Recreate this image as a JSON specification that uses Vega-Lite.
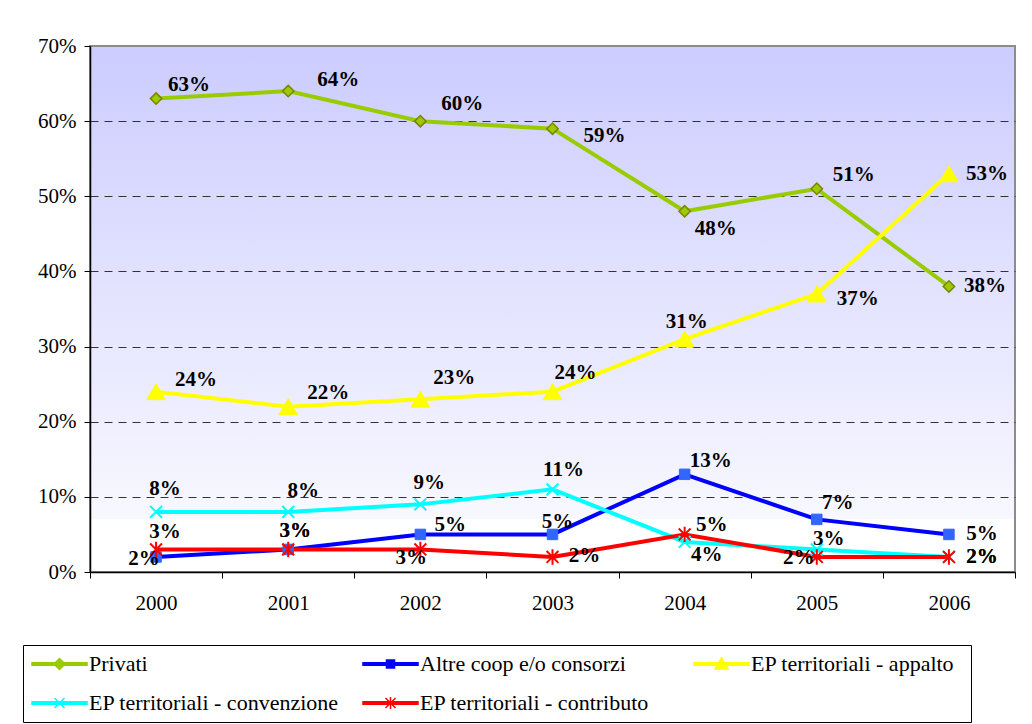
{
  "$schema": "https://vega.github.io/schema/vega-lite/v6.json",
  "width": 925,
  "height": 526,
  "autosize": "none",
  "padding": {"left": 90, "top": 46, "right": 17, "bottom": 152},
  "background": "white",
  "view": {
    "stroke": "#8c8c8c",
    "strokeWidth": 2,
    "fill": {"expr": "{gradient: 'linear', x1: 0, y1: 0, x2: 0, y2: 1, stops: [{offset: 0, color: '#ccccff'}, {offset: 0.9, color: '#f8f8ff'}, {offset: 0.9, color: '#ffffff'}, {offset: 1, color: '#ffffff'}]}"}
  },
  "config": {
    "font": "Liberation Serif",
    "axis": {"labelFont": "Liberation Serif", "labelFontSize": 21, "labelColor": "black", "tickColor": "black", "domainColor": "black", "title": null},
    "legend": {"labelFont": "Liberation Serif", "labelFontSize": 22, "labelColor": "black", "titleFontSize": 6}
  },
  "data": {
    "values": [
      {"series": "Privati", "year": "2000", "v": 0.63},
      {"series": "Privati", "year": "2001", "v": 0.64},
      {"series": "Privati", "year": "2002", "v": 0.60},
      {"series": "Privati", "year": "2003", "v": 0.59},
      {"series": "Privati", "year": "2004", "v": 0.48},
      {"series": "Privati", "year": "2005", "v": 0.51},
      {"series": "Privati", "year": "2006", "v": 0.38},
      {"series": "Altre coop e/o consorzi", "year": "2000", "v": 0.02},
      {"series": "Altre coop e/o consorzi", "year": "2001", "v": 0.03},
      {"series": "Altre coop e/o consorzi", "year": "2002", "v": 0.05},
      {"series": "Altre coop e/o consorzi", "year": "2003", "v": 0.05},
      {"series": "Altre coop e/o consorzi", "year": "2004", "v": 0.13},
      {"series": "Altre coop e/o consorzi", "year": "2005", "v": 0.07},
      {"series": "Altre coop e/o consorzi", "year": "2006", "v": 0.05},
      {"series": "EP territoriali - appalto", "year": "2000", "v": 0.24},
      {"series": "EP territoriali - appalto", "year": "2001", "v": 0.22},
      {"series": "EP territoriali - appalto", "year": "2002", "v": 0.23},
      {"series": "EP territoriali - appalto", "year": "2003", "v": 0.24},
      {"series": "EP territoriali - appalto", "year": "2004", "v": 0.31},
      {"series": "EP territoriali - appalto", "year": "2005", "v": 0.37},
      {"series": "EP territoriali - appalto", "year": "2006", "v": 0.53},
      {"series": "EP territoriali - convenzione", "year": "2000", "v": 0.08},
      {"series": "EP territoriali - convenzione", "year": "2001", "v": 0.08},
      {"series": "EP territoriali - convenzione", "year": "2002", "v": 0.09},
      {"series": "EP territoriali - convenzione", "year": "2003", "v": 0.11},
      {"series": "EP territoriali - convenzione", "year": "2004", "v": 0.04},
      {"series": "EP territoriali - convenzione", "year": "2005", "v": 0.03},
      {"series": "EP territoriali - convenzione", "year": "2006", "v": 0.02},
      {"series": "EP territoriali - contributo", "year": "2000", "v": 0.03},
      {"series": "EP territoriali - contributo", "year": "2001", "v": 0.03},
      {"series": "EP territoriali - contributo", "year": "2002", "v": 0.03},
      {"series": "EP territoriali - contributo", "year": "2003", "v": 0.02},
      {"series": "EP territoriali - contributo", "year": "2004", "v": 0.05},
      {"series": "EP territoriali - contributo", "year": "2005", "v": 0.02},
      {"series": "EP territoriali - contributo", "year": "2006", "v": 0.02}
    ]
  },
  "encoding": {
    "x": {
      "field": "year", "type": "ordinal", "bandPosition": 0.5,
      "scale": {"type": "band", "paddingInner": 0, "paddingOuter": 0},
      "axis": {"labelAngle": 0, "tickBand": "extent", "tickSize": 6, "labelPadding": 14, "grid": false, "domainWidth": 1.5}
    },
    "y": {
      "field": "v", "type": "quantitative",
      "scale": {"domain": [0, 0.7], "nice": false, "zero": true},
      "axis": {
        "values": [0, 0.1, 0.2, 0.3, 0.4, 0.5, 0.6, 0.7],
        "format": ".0%", "tickSize": 6, "labelPadding": 8, "domainWidth": 1.5,
        "grid": true, "gridDash": [8, 6], "gridColor": "#333333",
        "gridOpacity": {"condition": {"test": "datum.value === 0 || datum.value === 0.7", "value": 0}, "value": 1}
      }
    }
  },
  "layer": [
    {
      "mark": {"type": "line", "strokeWidth": 4},
      "encoding": {
        "color": {
          "field": "series", "type": "nominal", "legend": null,
          "scale": {
            "domain": ["Altre coop e/o consorzi", "EP territoriali - appalto", "EP territoriali - contributo", "EP territoriali - convenzione", "Privati"],
            "range": ["#0000ff", "#ffff00", "#ff0000", "#00ffff", "#99cc00"]
          }
        }
      }
    },
    {
      "transform": [{"filter": "datum.series === 'Privati'"}],
      "mark": {"type": "point", "shape": "diamond", "size": 130, "filled": true, "fill": "#99cc00", "stroke": "#808000", "strokeWidth": 1.5, "opacity": 1}
    },
    {
      "transform": [{"filter": "datum.series === 'Altre coop e/o consorzi'"}],
      "mark": {"type": "point", "shape": "square", "size": 110, "filled": true, "fill": "#3366ff", "stroke": "#3366ff", "strokeWidth": 1, "opacity": 1}
    },
    {
      "transform": [{"filter": "datum.series === 'EP territoriali - appalto'"}],
      "mark": {"type": "point", "shape": "triangle-up", "size": 340, "filled": true, "fill": "#ffff00", "stroke": "#ffff00", "strokeWidth": 1, "opacity": 1}
    },
    {
      "transform": [{"filter": "datum.series === 'EP territoriali - convenzione'"}],
      "mark": {"type": "point", "shape": "M-1,-1L1,1M-1,1L1,-1", "size": 140, "filled": false, "stroke": "#00ffff", "strokeWidth": 2, "opacity": 1}
    },
    {
      "transform": [{"filter": "datum.series === 'EP territoriali - contributo'"}],
      "mark": {"type": "point", "shape": "M-1,-1L1,1M-1,1L1,-1M0,-1.3V1.3", "size": 140, "filled": false, "stroke": "#ff0000", "strokeWidth": 2, "opacity": 1}
    },
    {
      "transform": [{"filter": "datum.series === 'Privati'"}],
      "mark": {"type": "text", "font": "Liberation Serif", "fontWeight": "bold", "fontSize": 21, "color": "black",
        "dx": {"expr": "{'2000':33,'2001':50,'2002':42,'2003':52,'2004':31,'2005':37,'2006':36}[datum.year]"},
        "dy": {"expr": "{'2000':-14,'2001':-11,'2002':-17,'2003':7,'2004':18,'2005':-14,'2006':0}[datum.year]"}},
      "encoding": {"text": {"field": "v", "type": "quantitative", "format": ".0%"}}
    },
    {
      "transform": [{"filter": "datum.series === 'Altre coop e/o consorzi'"}],
      "mark": {"type": "text", "font": "Liberation Serif", "fontWeight": "bold", "fontSize": 21, "color": "black",
        "dx": {"expr": "{'2000':-12,'2001':7,'2002':30,'2003':5,'2004':26,'2005':21,'2006':33}[datum.year]"},
        "dy": {"expr": "{'2000':2,'2001':-18,'2002':-9,'2003':-12,'2004':-13,'2005':-16,'2006':0}[datum.year]"}},
      "encoding": {"text": {"field": "v", "type": "quantitative", "format": ".0%"}}
    },
    {
      "transform": [{"filter": "datum.series === 'EP territoriali - appalto'"}],
      "mark": {"type": "text", "font": "Liberation Serif", "fontWeight": "bold", "fontSize": 21, "color": "black",
        "dx": {"expr": "{'2000':40,'2001':40,'2002':34,'2003':23,'2004':2,'2005':41,'2006':38}[datum.year]"},
        "dy": {"expr": "{'2000':-12,'2001':-14,'2002':-21,'2003':-19,'2004':-17,'2005':5,'2006':0}[datum.year]"}},
      "encoding": {"text": {"field": "v", "type": "quantitative", "format": ".0%"}}
    },
    {
      "transform": [{"filter": "datum.series === 'EP territoriali - convenzione'"}],
      "mark": {"type": "text", "font": "Liberation Serif", "fontWeight": "bold", "fontSize": 21, "color": "black",
        "dx": {"expr": "{'2000':9,'2001':15,'2002':9,'2003':11,'2004':22,'2005':12,'2006':33}[datum.year]"},
        "dy": {"expr": "{'2000':-23,'2001':-21,'2002':-21,'2003':-19,'2004':13,'2005':-10,'2006':0}[datum.year]"}},
      "encoding": {"text": {"field": "v", "type": "quantitative", "format": ".0%"}}
    },
    {
      "transform": [{"filter": "datum.series === 'EP territoriali - contributo'"}],
      "mark": {"type": "text", "font": "Liberation Serif", "fontWeight": "bold", "fontSize": 21, "color": "black",
        "dx": {"expr": "{'2000':9,'2001':7,'2002':-9,'2003':32,'2004':27,'2005':-18,'2006':33}[datum.year]"},
        "dy": {"expr": "{'2000':-17,'2001':-18,'2002':9,'2003':-1,'2004':-9,'2005':1,'2006':0}[datum.year]"}},
      "encoding": {"text": {"field": "v", "type": "quantitative", "format": ".0%"}}
    },
    {
      "transform": [{"filter": "datum.year === '2000'"}],
      "mark": {"type": "point", "filled": true, "size": 400, "opacity": 0},
      "encoding": {
        "fill": {
          "field": "series", "type": "nominal",
          "scale": {
            "domain": ["Privati", "Altre coop e/o consorzi", "EP territoriali - appalto", "EP territoriali - convenzione", "EP territoriali - contributo"],
            "range": ["#99cc00", "#0000ff", "#ffff00", "#00ffff", "#ff0000"]
          },
          "legend": {
            "orient": "none", "legendX": -67, "legendY": 599, "title": " ", "titleOrient": "right", "titlePadding": 9,
            "direction": "horizontal", "columns": 3, "gridAlign": "all",
            "columnPadding": 21, "rowPadding": 17, "padding": 8,
            "strokeColor": "black", "fillColor": "white",
            "labelOffset": 36, "symbolStrokeWidth": 1.5, "symbolSize": 400, "symbolOpacity": 1, "labelLimit": 400
          }
        },
        "stroke": {
          "field": "series", "type": "nominal",
          "scale": {
            "domain": ["Privati", "Altre coop e/o consorzi", "EP territoriali - appalto", "EP territoriali - convenzione", "EP territoriali - contributo"],
            "range": ["#99cc00", "#0000ff", "#ffff00", "#00ffff", "#ff0000"]
          },
          "legend": {
            "orient": "none", "legendX": -67, "legendY": 599, "title": " ", "titleOrient": "right", "titlePadding": 9,
            "direction": "horizontal", "columns": 3, "gridAlign": "all",
            "columnPadding": 21, "rowPadding": 17, "padding": 8,
            "strokeColor": "black", "fillColor": "white",
            "labelOffset": 36, "symbolStrokeWidth": 1.5, "symbolSize": 400, "symbolOpacity": 1, "labelLimit": 400
          }
        },
        "shape": {
          "field": "series", "type": "nominal",
          "scale": {
            "domain": ["Privati", "Altre coop e/o consorzi", "EP territoriali - appalto", "EP territoriali - convenzione", "EP territoriali - contributo"],
            "range": [
              "M-1,-0.12H4.5V0.12H-1ZM1.75,-0.55L2.3,0L1.75,0.55L1.2,0Z",
              "M-1,-0.12H4.5V0.12H-1ZM1.35,-0.4H2.15V0.4H1.35Z",
              "M-1,-0.12H4.5V0.12H-1ZM1.75,-0.6L2.4,0.5H1.1Z",
              "M-1,-0.12H4.5V0.12H-1ZM1.25,-0.5L2.25,0.5M1.25,0.5L2.25,-0.5",
              "M-1,-0.12H4.5V0.12H-1ZM1.25,-0.5L2.25,0.5M1.25,0.5L2.25,-0.5M1.75,-0.6V0.6"
            ]
          },
          "legend": {
            "orient": "none", "legendX": -67, "legendY": 599, "title": " ", "titleOrient": "right", "titlePadding": 9,
            "direction": "horizontal", "columns": 3, "gridAlign": "all",
            "columnPadding": 21, "rowPadding": 17, "padding": 8,
            "strokeColor": "black", "fillColor": "white",
            "labelOffset": 36, "symbolStrokeWidth": 1.5, "symbolSize": 400, "symbolOpacity": 1, "labelLimit": 400
          }
        }
      }
    }
  ]
}
